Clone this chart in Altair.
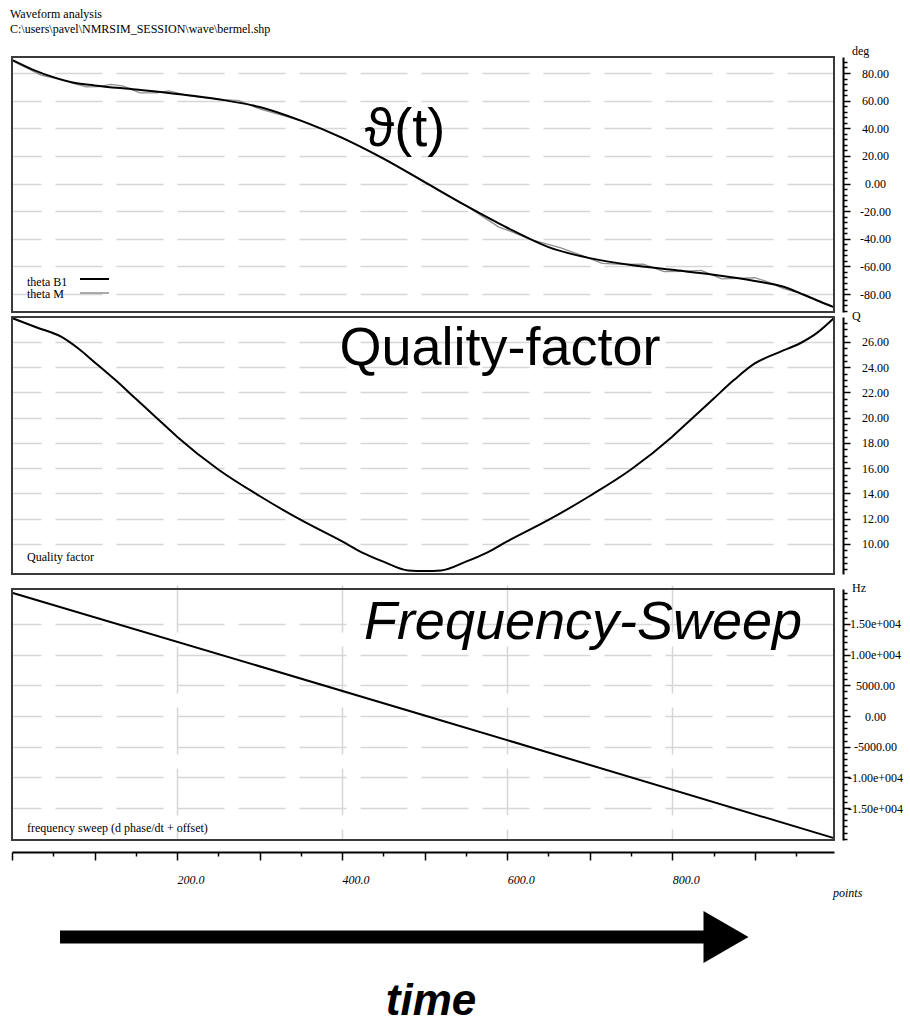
import altair as alt
import pandas as pd

# ---- sample index ("points") and readings for each trace ----
theta_pts = [0, 25, 50, 75, 100, 150, 200, 250, 300, 350, 400, 450, 500,
             550, 600, 650, 700, 750, 800, 850, 900, 935, 960, 975, 996]
theta_b1 = [89.5, 82.5, 77.0, 73.0, 71.0, 68.0, 64.8, 61.0, 55.4, 45.5, 33.0, 18.0, 1.0,
            -16.0, -32.0, -46.0, -54.0, -59.0, -62.5, -66.0, -70.5, -74.7, -80.7, -84.5, -89.5]

theta_m_pts = [0, 20, 35, 50, 70, 90, 105, 120, 135, 155, 175, 190, 215, 245, 275, 300,
               330, 360, 400, 450, 500, 550, 590, 605, 630, 665, 690, 715, 740, 765, 790,
               815, 835, 860, 880, 900, 915, 935, 960, 980, 996]
theta_m = [89.0, 83.0, 78.5, 76.5, 73.3, 70.0, 70.2, 71.8, 70.5, 65.7, 65.6, 67.0, 63.5,
           61.3, 60.0, 54.0, 49.0, 43.5, 33.5, 18.5, 1.5, -16.0, -31.5, -34.8, -40.8,
           -46.5, -52.0, -57.8, -58.5, -58.3, -63.8, -63.5, -62.8, -69.0, -68.7, -68.2,
           -71.0, -76.0, -80.2, -85.8, -89.8]

q_pts = [0, 30, 60, 80, 100, 125, 150, 175, 200, 250, 300, 350, 400, 425, 450, 480, 500,
         520, 550, 575, 600, 650, 700, 750, 800, 825, 850, 875, 900, 930, 955, 975, 996]
q_vals = [27.9, 27.15, 26.4, 25.5, 24.4, 23.0, 21.5, 20.0, 18.5, 15.9, 13.8, 11.9, 10.2,
          9.3, 8.6, 7.9, 7.85, 7.9, 8.6, 9.3, 10.2, 11.9, 13.8, 15.9, 18.5, 20.0, 21.5,
          23.0, 24.3, 25.2, 25.9, 26.7, 27.9]

f_pts = [0, 500, 996]
f_vals = [20100.0, 100.0, -19900.0]

# ---- layout (pixels inside the plot area) ----
W, H = 822, 783
P1 = (0, 255)      # theta panel top/bottom
P2 = (260, 517)    # Q panel
P3 = (532, 783)    # Hz panel
X_DOMAIN = [0, 996]

SERIF = "Liberation Serif"
SANS = "Liberation Sans, DejaVu Sans"
GRID = "#d6d6d6"
DASH = [47, 14]

one = pd.DataFrame({"k": [0]})


def cond(test, a, b):
    return {"condition": {"test": test, "value": a}, "value": b}


x_axis = alt.Axis(
    orient="bottom", offset=12, title=None,
    values=list(range(0, 1000, 50)),
    labelExpr="datum.value % 200 === 0 && datum.value > 0 ? format(datum.value, '.1f') : ''",
    tickSize=cond("datum.value % 100 === 0", 8, 4),
    tickColor="black", tickWidth=1.5,
    domainColor="black", domainWidth=2,
    grid=True, gridDash=DASH, gridColor=GRID, gridWidth=1.5,
    gridOpacity=cond("datum.value % 200 === 0 && datum.value > 0", 1, 0),
    labelFont=SERIF, labelFontStyle="italic", labelFontSize=12,
    labelAlign="left", labelPadding=14, labelOverlap=False, labelFlush=False,
)
x_enc = alt.X("pt:Q", scale=alt.Scale(domain=X_DOMAIN, nice=False, zero=False), axis=x_axis)

SIGN = "(datum.value < 0 ? '-' : '') + "


def right_axis(values, major, label_expr, padding=25):
    return alt.Axis(
        orient="right", offset=9, title=None, values=values,
        labelExpr=f"({major}) ? {label_expr} : ''",
        tickSize=cond(major, 7, 4), tickColor="black", tickWidth=1.5,
        domainColor="black", domainWidth=2,
        grid=True, gridDash=DASH, gridColor=GRID, gridWidth=1.5,
        gridOpacity=cond(major, 1, 0),
        labelFont=SERIF, labelFontSize=12, labelColor="black",
        labelAlign="center", labelPadding=padding, labelOverlap=False, labelFlush=False,
        labelBaseline="middle",
    )


# ---- theta panel ----
deg_major = "datum.value % 20 === 0 && abs(datum.value) <= 80"
deg_y = alt.Y("deg:Q",
              scale=alt.Scale(domain=[-93.0, 91.6], range=[P1[1], P1[0]], nice=False, zero=False),
              axis=right_axis(list(range(-92, 92, 4)), deg_major,
                              SIGN + "format(abs(datum.value), '.2f')"))
theta_m_df = pd.DataFrame({"pt": theta_m_pts, "deg": theta_m})
theta_b1_df = pd.DataFrame({"pt": theta_pts, "deg": theta_b1})
theta_panel = alt.layer(
    alt.Chart(theta_m_df).mark_line(color="#8f8f8f", strokeWidth=1.3).encode(x=x_enc, y=deg_y),
    alt.Chart(theta_b1_df).mark_line(color="black", strokeWidth=2, interpolate="monotone")
    .encode(x=x_enc, y=deg_y),
)

# ---- quality-factor panel ----
q_major = "datum.value % 2 === 0 && datum.value >= 10 && datum.value <= 26"
q_df = pd.DataFrame({"pt": q_pts, "q": q_vals})
q_panel = alt.Chart(q_df).mark_line(color="black", strokeWidth=2, interpolate="monotone").encode(
    x=x_enc,
    y=alt.Y("q:Q",
            scale=alt.Scale(domain=[7.62, 27.98], range=[P2[1], P2[0]], nice=False, zero=False),
            axis=right_axis([v / 2 for v in range(16, 56)], q_major, "format(datum.value, '.2f')")),
)

# ---- frequency-sweep panel ----
hz_major = "datum.value % 5000 === 0 && abs(datum.value) <= 15000"
hz_label = (SIGN + "(abs(datum.value) >= 10000 ? format(abs(datum.value) / 10000, '.2f') + 'e+004'"
            " : format(abs(datum.value), '.2f'))")
f_df = pd.DataFrame({"pt": f_pts, "hz": f_vals})
f_panel = alt.Chart(f_df).mark_line(color="black", strokeWidth=2).encode(
    x=x_enc,
    y=alt.Y("hz:Q",
            scale=alt.Scale(domain=[-20200, 20700], range=[P3[1], P3[0]], nice=False, zero=False),
            axis=right_axis(list(range(-20000, 20001, 1000)), hz_major, hz_label, padding=25)),
)


# ---- frames, captions and annotations ----
def frame(top, bottom):
    return alt.Chart(one).mark_rect(fillOpacity=0, stroke="#3a3a3a", strokeWidth=2).encode(
        x=alt.value(0), x2=alt.value(W), y=alt.value(top), y2=alt.value(bottom))


def label(text, x, y, size=12, font=SERIF, align="left", baseline="middle",
          style="normal", weight="normal"):
    return alt.Chart(one).mark_text(
        text=text, font=font, fontSize=size, align=align, baseline=baseline,
        fontStyle=style, fontWeight=weight, color="black",
    ).encode(x=alt.value(x), y=alt.value(y))


def stroke(x1, x2, y, color, width):
    return alt.Chart(one).mark_rule(color=color, strokeWidth=width).encode(
        x=alt.value(x1), x2=alt.value(x2), y=alt.value(y))


decor = [
    frame(*P1), frame(*P2), frame(*P3),
    label("Waveform analysis", -2, -43),
    label("C:\\users\\pavel\\NMRSIM_SESSION\\wave\\bermel.shp", -2, -28),
    label("deg", 840, -6),
    label("Q", 840, 259),
    label("Hz", 840, 531),
    label("theta B1", 15, 225),
    label("theta M", 15, 237),
    stroke(68, 97, 222, "black", 2),
    stroke(68, 97, 236, "#8f8f8f", 1.5),
    label("Quality factor", 15, 500),
    label("frequency sweep (d phase/dt + offset)", 15, 771),
    label("points", 821, 836, style="italic"),
    label("\u03d1(t)", 393, 89, size=54, font=SANS, align="center", baseline="alphabetic"),
    label("Quality-factor", 488, 308, size=54, font=SANS, align="center", baseline="alphabetic"),
    label("Frequency-Sweep", 571, 582, size=54, font=SANS, align="center",
          baseline="alphabetic", style="italic"),
    stroke(48, 695, 880, "black", 13),
    alt.Chart(one).mark_point(
        shape="M-0.866,-1L0.866,0L-0.866,1Z", size=52 * 52, filled=True,
        color="black", opacity=1, strokeWidth=0,
    ).encode(x=alt.value(714), y=alt.value(880)),
    label("time", 419, 958, size=44, font=SANS, align="center", baseline="alphabetic",
          style="italic", weight="bold"),
]

chart = alt.layer(theta_panel, q_panel, f_panel, *decor).resolve_scale(
    y="independent"
).resolve_axis(
    y="independent"
).properties(
    width=W, height=H,
    padding={"left": 12, "top": 57, "right": 76, "bottom": 183},
    autosize=alt.AutoSizeParams(type="none"),
    background="white",
).configure_view(stroke=None)

chart.save("out.html", embed_options={"renderer": "svg", "actions": False})
